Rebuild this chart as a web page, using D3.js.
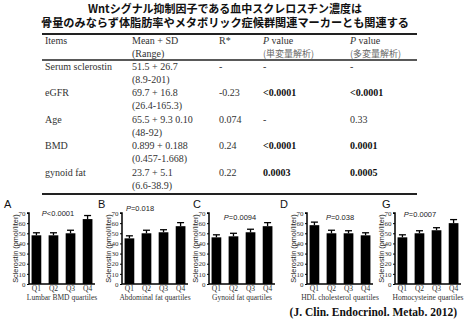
<!DOCTYPE html>
<html><head><meta charset="utf-8">
<script src="https://cdn.jsdelivr.net/npm/d3@7"></script>
<style>html,body{margin:0;padding:0;background:#fff;}svg{display:block;}</style>
</head><body>
<script>
// ---- data ----
const titleLines = ["Wntシグナル抑制因子である血中スクレロスチン濃度は", "骨量のみならず体脂肪率やメタボリック症候群関連マーカーとも関連する"];
const headers1 = ["Items", "Mean + SD", "R*", "P value", "P value"];
const headers2 = ["", "(Range)", "", "(単変量解析)", "(多変量解析)"];
const items = ["Serum sclerostin", "eGFR", "Age", "BMD", "gynoid fat"];
const meanSD = ["51.5 + 26.7", "69.7 + 16.8", "65.5 + 9.3  0.10", "0.899 + 0.188", "23.7 + 5.1"];
const ranges = ["(8.9-201)", "(26.4-165.3)", "(48-92)", "(0.457-1.668)", "(6.6-38.9)"];
const rVals = ["-", "-0.23", "0.074", "0.24", "0.22"];
const pUni = ["-", "<0.0001", "-", "<0.0001", "0.0003"];
const pMulti = ["-", "<0.0001", "0.33", "0.0001", "0.0005"];

const quartiles = ["Q1", "Q2", "Q3", "Q4"];
const yTicks = [0, 10, 20, 30, 40, 50, 60, 70];
const panelLetters = ["A", "B", "C", "D", "G"];
const pTexts = ["<0.0001", "=0.018", "=0.0094", "=0.038", "=0.0007"];
const xTitles = ["Lumbar BMD quartiles", "Abdominal fat quartiles", "Gynoid fat quartiles", "HDL cholesterol quartiles", "Homocysteine quartiles"];
const meansA = [48, 48, 50, 64];
const meansB = [45, 50, 51, 57];
const meansC = [46, 47, 51, 57];
const meansD = [58, 50, 50, 48];
const meansG = [46, 50, 53, 60];
const errA = [2.5, 2.5, 3, 3.5];
const errB = [2.5, 3, 2.5, 3.5];
const errC = [2.5, 3, 3, 3.5];
const errD = [3, 3, 2.5, 2.5];
const errG = [2.5, 2.5, 2.5, 3.5];
const yTitle = "Sclerostin (pmol/liter)";
const citation = "(J. Clin. Endocrinol. Metab. 2012)";

// ---- layout ----
const W = 470, H = 324;
const svg = d3.select("body").append("svg").attr("width", W).attr("height", H);
svg.append("rect").attr("width", W).attr("height", H).attr("fill", "#fff");

const cjk = "'Noto Sans CJK JP', 'Noto Sans CJK SC', sans-serif";
const serif = "'Liberation Serif', 'Times New Roman', serif";
const sans = "'Liberation Sans', Arial, sans-serif";

// title
const titleWidths = [274, 368];
const titleY = [7.5, 22];
titleLines.forEach((t, i) => {
  svg.append("text").attr("x", 225).attr("y", titleY[i])
    .attr("text-anchor", "middle").attr("dominant-baseline", "central")
    .attr("font-family", cjk).attr("font-weight", "bold").attr("font-size", 11.5)
    .attr("textLength", titleWidths[i]).attr("lengthAdjust", "spacingAndGlyphs")
    .attr("fill", "#111").text(t);
});

// table
const colX = [45, 132, 219, 263, 350];
const tbl = svg.append("g").attr("font-family", serif).attr("font-size", 10).attr("fill", "#333");
tbl.append("line").attr("x1", 42).attr("x2", 417).attr("y1", 34).attr("y2", 34).attr("stroke", "#222").attr("stroke-width", 2);
tbl.append("line").attr("x1", 42).attr("x2", 417).attr("y1", 60).attr("y2", 60).attr("stroke", "#222").attr("stroke-width", 1.5);
tbl.append("line").attr("x1", 42).attr("x2", 417).attr("y1", 194).attr("y2", 194).attr("stroke", "#222").attr("stroke-width", 2);

headers1.forEach((h, i) => {
  const t = tbl.append("text").attr("x", colX[i]).attr("y", 40).attr("dominant-baseline", "central");
  if (h.startsWith("P ")) {
    t.append("tspan").attr("font-style", "italic").text("P");
    t.append("tspan").text(h.slice(1));
  } else t.text(h);
});
headers2.forEach((h, i) => {
  if (!h) return;
  tbl.append("text").attr("x", colX[i]).attr("y", 53).attr("dominant-baseline", "central")
    .attr("font-family", i >= 3 ? "'Noto Sans CJK JP', serif" : serif)
    .attr("font-size", i >= 3 ? 9 : 10).attr("fill", i >= 3 ? "#666" : "#333").text(h);
});
const rowY = d3.scaleLinear().domain([0, 1]).range([66, 92.5]);
items.forEach((it, r) => {
  const y = rowY(r);
  tbl.append("text").attr("x", colX[0]).attr("y", y).attr("dominant-baseline", "central").text(it);
  tbl.append("text").attr("x", colX[1]).attr("y", y).attr("dominant-baseline", "central").text(meanSD[r]);
  tbl.append("text").attr("x", colX[1]).attr("y", y + 13.3).attr("dominant-baseline", "central").text(ranges[r]);
  tbl.append("text").attr("x", colX[2]).attr("y", y).attr("dominant-baseline", "central").text(rVals[r]);
  tbl.append("text").attr("x", colX[3]).attr("y", y).attr("dominant-baseline", "central")
    .attr("font-weight", pUni[r] === "-" ? "normal" : "bold").attr("fill", pUni[r] === "-" ? "#333" : "#111").text(pUni[r]);
  const boldM = pMulti[r] !== "-" && pMulti[r] !== "0.33";
  tbl.append("text").attr("x", colX[4]).attr("y", y).attr("dominant-baseline", "central")
    .attr("font-weight", boldM ? "bold" : "normal").attr("fill", boldM ? "#111" : "#333").text(pMulti[r]);
});

// panels
const panelMeans = [meansA, meansB, meansC, meansD, meansG];
const panelErrs = [errA, errB, errC, errD, errG];
const axisX = [29, 122, 209, 307, 395];
const letterX = [4, 98, 193, 280, 382];
const pCX = [58, 140, 240, 340, 420];
const pY = [213, 208, 217, 217, 214];
const y = d3.scaleLinear().domain([0, 70]).range([284, 213]);

panelMeans.forEach((vals, p) => {
  const g = svg.append("g");
  const ax = axisX[p];
  const x = d3.scaleBand().domain(quartiles).range([ax, ax + 66]).paddingInner(0.43).paddingOuter(0.15);

  g.selectAll("rect.bar").data(quartiles).join("rect")
    .attr("x", d => x(d)).attr("width", x.bandwidth())
    .attr("y", (d, i) => y(vals[i])).attr("height", (d, i) => y(0) - y(vals[i]))
    .attr("fill", "#000");
  g.selectAll("line.err").data(quartiles).join("line")
    .attr("x1", d => x(d) + x.bandwidth() / 2).attr("x2", d => x(d) + x.bandwidth() / 2)
    .attr("y1", (d, i) => y(vals[i])).attr("y2", (d, i) => y(vals[i] + panelErrs[p][i]))
    .attr("stroke", "#000").attr("stroke-width", 1.3);
  g.selectAll("line.cap").data(quartiles).join("line")
    .attr("x1", d => x(d) + x.bandwidth() / 2 - 3.5).attr("x2", d => x(d) + x.bandwidth() / 2 + 3.5)
    .attr("y1", (d, i) => y(vals[i] + panelErrs[p][i])).attr("y2", (d, i) => y(vals[i] + panelErrs[p][i]))
    .attr("stroke", "#000").attr("stroke-width", 1.3);

  const yAxis = g.append("g").attr("transform", `translate(${ax},0)`)
    .call(d3.axisLeft(y).tickValues(yTicks).tickSize(2).tickPadding(1.5));
  yAxis.select(".domain").attr("stroke", "#000").attr("stroke-width", 1.5).attr("d", `M-2,${y(70)}H0V${y(0)}`);
  yAxis.selectAll(".tick line").attr("stroke", "#000");
  yAxis.selectAll(".tick text").attr("font-family", serif).attr("font-size", 7).attr("fill", "#333");

  const xAxis = g.append("g").attr("transform", `translate(0,${y(0)})`)
    .call(d3.axisBottom(x).tickSize(0).tickPadding(2));
  xAxis.select(".domain").attr("stroke", "#000").attr("stroke-width", 1.5).attr("d", `M${ax},0H${ax + 66}`);
  xAxis.selectAll(".tick text").attr("font-family", serif).attr("font-size", 7.5).attr("fill", "#333");

  g.append("text").attr("x", ax + 33).attr("y", 297.5).attr("text-anchor", "middle").attr("dominant-baseline", "central")
    .attr("font-family", serif).attr("font-size", 7.5).attr("fill", "#333").text(xTitles[p]);
  g.append("text").attr("transform", `translate(${ax - 14},${(y(0) + y(70)) / 2}) rotate(-90)`)
    .attr("text-anchor", "middle").attr("dominant-baseline", "central")
    .attr("font-family", sans).attr("font-size", 7.3).attr("fill", "#222").text(yTitle);
  g.append("text").attr("x", letterX[p]).attr("y", 204).attr("dominant-baseline", "central")
    .attr("font-family", sans).attr("font-size", 11).attr("fill", "#111").text(panelLetters[p]);
  const pt = g.append("text").attr("x", pCX[p]).attr("y", pY[p]).attr("text-anchor", "middle").attr("dominant-baseline", "central")
    .attr("font-family", sans).attr("font-size", 7.5).attr("fill", "#222");
  pt.append("tspan").attr("font-style", "italic").text("P");
  pt.append("tspan").text(pTexts[p]);
});

svg.append("text").attr("x", 457).attr("y", 312).attr("text-anchor", "end").attr("dominant-baseline", "central")
  .attr("font-family", serif).attr("font-weight", "bold").attr("font-size", 11.5).attr("fill", "#111").text(citation);
</script>
</body></html>
